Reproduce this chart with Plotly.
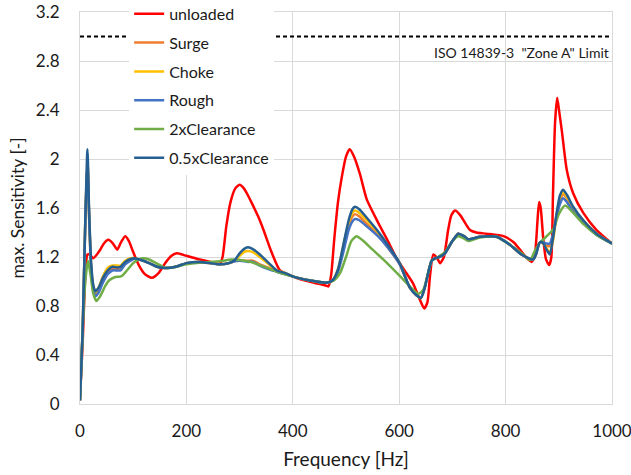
import plotly.graph_objects as go

# ---------------- data ----------------
limit_value = 3.0
limit_label = 'ISO 14839-3  "Zone A" Limit'

x_unloaded = [0, 5, 10, 14, 18, 25, 35, 45, 53, 62, 70, 77, 85, 92, 100, 111, 122, 135, 148, 160,
              172, 182, 200, 225, 250, 263, 268, 275, 283, 292, 300, 308, 316, 323, 335, 345, 360, 376,
              395, 413, 440, 460, 467, 472, 478, 485, 492, 500, 507, 515, 526, 539, 550, 564, 580, 595,
              610, 626, 638, 647, 653, 658, 664, 670, 677, 684, 692, 698, 705, 715, 725, 733, 745, 764,
              796, 815, 827, 840, 849, 855, 860, 863, 866, 871, 876, 882, 886, 889, 893, 897, 901, 906,
              915, 927, 946, 971, 1000]
y_unloaded = [0.05, 0.5, 1.05, 1.22, 1.22, 1.19, 1.24, 1.31, 1.34, 1.31, 1.26, 1.32, 1.37, 1.33, 1.24,
              1.13, 1.06, 1.03, 1.07, 1.15, 1.21, 1.23, 1.21, 1.18, 1.155, 1.145, 1.20, 1.45, 1.65, 1.76,
              1.79, 1.76, 1.70, 1.64, 1.53, 1.42, 1.24, 1.09, 1.05, 1.02, 0.99, 0.97, 0.96, 1.05, 1.35,
              1.65, 1.85, 2.02, 2.08, 2.02, 1.88, 1.67, 1.57, 1.45, 1.32, 1.19, 1.09, 0.985, 0.86, 0.78,
              0.83, 1.05, 1.22, 1.20, 1.15, 1.20, 1.42, 1.54, 1.58, 1.54, 1.47, 1.42, 1.40, 1.39, 1.37,
              1.32, 1.26, 1.19, 1.16, 1.22, 1.50, 1.65, 1.60, 1.34, 1.18, 1.135, 1.20, 1.70, 2.30, 2.50,
              2.38, 2.22, 1.91, 1.72, 1.56, 1.42, 1.31]

x_main = [0, 5, 10, 14, 17, 21, 25, 29, 35, 43, 52, 61, 70, 76, 85, 95, 102, 115, 130, 145,
          160, 180, 200, 225, 263, 280, 291, 300, 310, 316, 325, 338, 355, 370, 385, 401, 430, 464, 475, 485,
          495, 505, 512, 517, 525, 539, 560, 580, 601, 612, 620, 632, 641, 648, 655, 661, 668, 675, 686, 700,
          711, 722, 730, 752, 783, 808, 830, 846, 852, 857, 863, 866, 871, 877, 883, 889, 896, 902, 908, 915,
          927, 946, 971, 1000]

y_surge = [0.03, 0.6, 1.5, 2.0, 1.55, 1.1, 0.94, 0.89, 0.92, 1.00, 1.07, 1.10, 1.10, 1.10, 1.15, 1.18, 1.19, 1.175, 1.15, 1.12,
           1.11, 1.12, 1.15, 1.16, 1.14, 1.15, 1.17, 1.175, 1.17, 1.17, 1.17, 1.14, 1.11, 1.08, 1.06, 1.04, 1.01, 0.99, 1.01, 1.09,
           1.26, 1.45, 1.53, 1.55, 1.53, 1.47, 1.38, 1.27, 1.14, 1.03, 0.95, 0.89, 0.87, 0.95, 1.08, 1.17, 1.19, 1.20, 1.23, 1.33,
           1.39, 1.37, 1.345, 1.365, 1.365, 1.30, 1.22, 1.185, 1.18, 1.22, 1.31, 1.32, 1.31, 1.29, 1.29, 1.38, 1.55, 1.66, 1.71, 1.68,
           1.59, 1.49, 1.39, 1.31]

y_choke = [0.03, 0.6, 1.5, 2.0, 1.55, 1.12, 0.96, 0.91, 0.95, 1.04, 1.11, 1.13, 1.13, 1.13, 1.17, 1.19, 1.19, 1.175, 1.15, 1.12,
           1.11, 1.12, 1.15, 1.16, 1.14, 1.15, 1.17, 1.21, 1.245, 1.25, 1.24, 1.20, 1.14, 1.09, 1.07, 1.04, 1.01, 0.99, 1.01, 1.10,
           1.29, 1.48, 1.56, 1.58, 1.56, 1.50, 1.40, 1.28, 1.15, 1.03, 0.95, 0.89, 0.865, 0.95, 1.08, 1.17, 1.19, 1.20, 1.23, 1.33,
           1.39, 1.37, 1.345, 1.365, 1.365, 1.30, 1.22, 1.185, 1.18, 1.22, 1.31, 1.32, 1.31, 1.27, 1.24, 1.33, 1.54, 1.68, 1.73, 1.69,
           1.60, 1.50, 1.39, 1.31]

y_rough = [0.03, 0.6, 1.5, 2.0, 1.55, 1.1, 0.93, 0.88, 0.91, 0.99, 1.06, 1.09, 1.09, 1.09, 1.14, 1.17, 1.185, 1.175, 1.15, 1.12,
           1.11, 1.12, 1.15, 1.16, 1.14, 1.15, 1.165, 1.17, 1.165, 1.16, 1.16, 1.13, 1.10, 1.08, 1.06, 1.04, 1.01, 0.99, 1.01, 1.08,
           1.24, 1.42, 1.49, 1.51, 1.50, 1.45, 1.37, 1.27, 1.14, 1.03, 0.95, 0.89, 0.87, 0.95, 1.08, 1.17, 1.19, 1.20, 1.23, 1.33,
           1.39, 1.37, 1.345, 1.365, 1.365, 1.30, 1.22, 1.185, 1.18, 1.22, 1.31, 1.32, 1.32, 1.31, 1.31, 1.38, 1.53, 1.63, 1.68, 1.65,
           1.57, 1.48, 1.38, 1.31]

y_half = [0.03, 0.6, 1.5, 2.08, 1.6, 1.15, 0.97, 0.92, 0.95, 1.03, 1.09, 1.12, 1.115, 1.12, 1.16, 1.185, 1.19, 1.175, 1.15, 1.12,
          1.11, 1.12, 1.15, 1.16, 1.14, 1.15, 1.175, 1.23, 1.27, 1.28, 1.265, 1.22, 1.15, 1.09, 1.07, 1.04, 1.01, 0.99, 1.01, 1.10,
          1.30, 1.50, 1.59, 1.61, 1.59, 1.52, 1.41, 1.29, 1.15, 1.03, 0.95, 0.89, 0.865, 0.95, 1.08, 1.17, 1.19, 1.20, 1.23, 1.33,
          1.39, 1.37, 1.345, 1.365, 1.365, 1.30, 1.22, 1.185, 1.18, 1.22, 1.31, 1.325, 1.31, 1.26, 1.22, 1.35, 1.56, 1.70, 1.75, 1.71,
          1.61, 1.50, 1.39, 1.31]

x_2x = [0, 5, 10, 15, 20, 25, 31, 38, 47, 55, 65, 75, 80, 90, 100, 110, 118, 130, 143, 162,
        180, 199, 230, 263, 285, 300, 320, 340, 370, 401, 430, 464, 478, 489, 500, 510, 520, 530, 550, 570,
        600, 620, 636, 645, 655, 661, 673, 686, 700, 711, 722, 730, 752, 783, 808, 830, 846, 855, 865, 875,
        890, 900, 912, 927, 946, 971, 1000]
y_2x = [0.03, 0.62, 1.0, 1.17, 1.05, 0.9, 0.84, 0.88, 0.96, 1.01, 1.035, 1.04, 1.05, 1.10, 1.15, 1.18, 1.19, 1.18, 1.15, 1.11,
        1.12, 1.14, 1.155, 1.165, 1.18, 1.175, 1.16, 1.13, 1.08, 1.04, 1.01, 0.99, 1.01, 1.07, 1.20, 1.33, 1.37, 1.34, 1.26, 1.18,
        1.05, 0.96, 0.90, 0.93, 1.08, 1.17, 1.20, 1.24, 1.33, 1.37, 1.35, 1.33, 1.36, 1.366, 1.30, 1.23, 1.175, 1.25, 1.32, 1.36,
        1.43, 1.55, 1.62, 1.56, 1.47, 1.38, 1.31]

series = [
    ("unloaded", x_unloaded, y_unloaded, "#FF0000"),
    ("Surge", x_main, y_surge, "#ED7D31"),
    ("Choke", x_main, y_choke, "#FFC000"),
    ("Rough", x_main, y_rough, "#4472C4"),
    ("2xClearance", x_2x, y_2x, "#70AD47"),
    ("0.5xClearance", x_main, y_half, "#255E91"),
]

x_range = [0, 1000]
y_range = [0, 3.2]
x_ticks = [0, 200, 400, 600, 800, 1000]
y_ticks = [0, 0.4, 0.8, 1.2, 1.6, 2, 2.4, 2.8, 3.2]
y_tick_text = ["0", "0.4", "0.8", "1.2", "1.6", "2", "2.4", "2.8", "3.2"]

# ---------------- figure ----------------
FONT = "Lato"
TXT = "#1a1a1a"
GRID = "#D9D9D9"

fig = go.Figure()

fig.add_trace(go.Scatter(
    x=x_range, y=[limit_value, limit_value], mode="lines",
    line=dict(color="black", width=2, dash="4px,3px"),
    showlegend=False, hoverinfo="skip"))

for i, (name, xs, ys, col) in enumerate(series):
    fig.add_trace(go.Scatter(
        x=xs, y=ys, mode="lines", name=name, legendgroup=f"g{i}",
        line=dict(color=col, width=2.5, shape="spline", smoothing=0.6)))

fig.add_annotation(
    x=1000, y=2.87, xref="x", yref="y", text=limit_label, showarrow=False,
    xanchor="right", yanchor="middle", xshift=-1,
    font=dict(family=FONT, size=14, color=TXT))

fig.update_layout(
    width=631, height=475,
    margin=dict(l=80, r=19, t=12, b=71, autoexpand=False),
    paper_bgcolor="white", plot_bgcolor="white",
    font=dict(family=FONT, color=TXT),
    legend=dict(
        x=0.0924, y=1.0385, xanchor="left", yanchor="top",
        bgcolor="white", borderwidth=0,
        traceorder="grouped", tracegroupgap=5,
        font=dict(family=FONT, size=16, color=TXT)),
    xaxis=dict(
        range=x_range, tickvals=x_ticks, showgrid=True, gridcolor=GRID, gridwidth=1,
        showline=True, linecolor=GRID, linewidth=1, mirror=True, zeroline=False,
        ticks="outside", ticklen=12, tickcolor="rgba(0,0,0,0)", ticklabeloverflow="allow",
        tickfont=dict(family=FONT, size=17, color=TXT),
        title=dict(text="Frequency [Hz]", standoff=12, font=dict(family=FONT, size=19, color=TXT))),
    yaxis=dict(
        range=y_range, tickvals=y_ticks, ticktext=y_tick_text, showgrid=True, gridcolor=GRID, gridwidth=1,
        showline=True, linecolor=GRID, linewidth=1, mirror=True, zeroline=False,
        ticks="outside", ticklen=16, tickcolor="rgba(0,0,0,0)",
        tickfont=dict(family=FONT, size=17, color=TXT),
        title=dict(text="max. Sensitivity [-]", standoff=6, font=dict(family=FONT, size=17.5, color=TXT))),
)

fig.write_html("out.html")
